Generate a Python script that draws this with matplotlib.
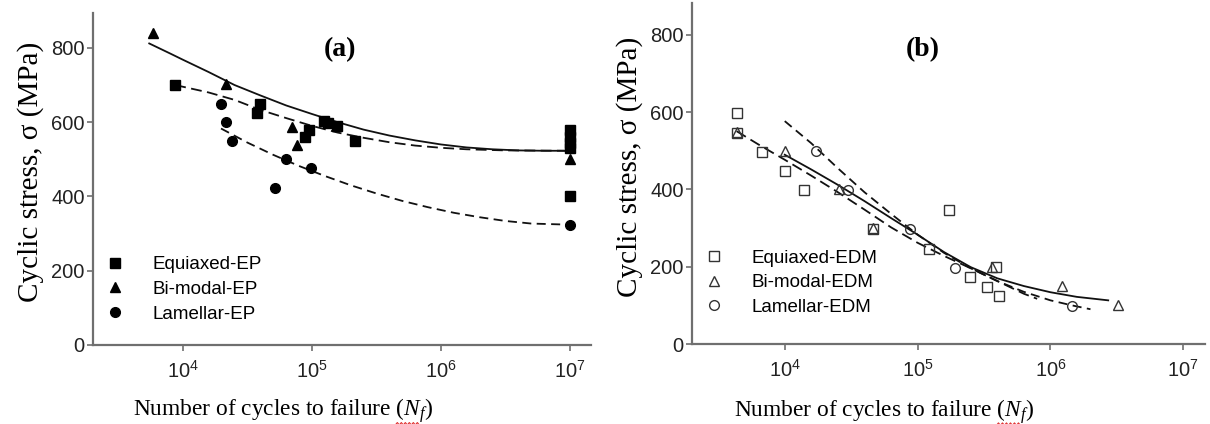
import matplotlib
matplotlib.use("Agg")
import matplotlib.pyplot as plt
from matplotlib.lines import Line2D
from matplotlib.transforms import IdentityTransform

plt.rcParams['font.family'] = ['Liberation Sans', 'DejaVu Sans']
plt.rcParams['mathtext.fontset'] = 'custom'
plt.rcParams['mathtext.rm'] = 'Liberation Serif'
plt.rcParams['mathtext.it'] = 'Liberation Serif:italic'
plt.rcParams['mathtext.sf'] = 'Liberation Sans'

# ---------------- data: panel (a) electropolished ----------------
eq_ep_N = [8700, 39300, 37300, 87700, 94000, 124000, 133000, 157000, 216000, 1e7, 1e7, 1e7, 1e7, 1e7]
eq_ep_S = [700, 649, 626, 561, 579, 604, 599, 590, 550, 578, 560, 545, 530, 400]
bi_ep_N = [5900, 21400, 69700, 76600, 1e7]
bi_ep_S = [841, 702, 588, 539, 500]
la_ep_N = [19700, 21700, 23900, 63000, 98000, 51900, 1e7]
la_ep_S = [649, 600, 550, 500, 476, 424, 324]

# trend curves, panel (a)
fitA_bi_N = [5470, 7940, 10000, 15800, 25100, 39800, 63100, 100000, 158000, 251000,
             398000, 631000, 1000000, 1580000, 2510000, 3980000, 6310000, 1e7]
fitA_bi_S = [812, 785, 768, 735, 700, 672, 645, 622, 600, 580,
             564, 551, 540, 532, 527, 524, 523, 523]
fitA_eq_N = [8700, 15800, 25100, 39800, 63100, 100000, 158000, 251000, 398000, 631000,
             1000000, 1580000, 3160000, 1e7]
fitA_eq_S = [700, 680, 660, 633, 611, 590, 572, 558, 546, 537,
             531, 527, 524, 523]
fitA_la_N = [19700, 31600, 50100, 79400, 126000, 200000, 316000, 501000, 794000,
             1260000, 2000000, 3160000, 5010000, 1e7]
fitA_la_S = [583, 545, 512, 482, 455, 430, 408, 388, 371,
             356, 344, 334, 327, 324]

# ---------------- data: panel (b) EDM ----------------
eq_edm_N = [4340, 4340, 6730, 10000, 14000, 45800, 121000, 171000, 250000, 332000, 388000, 413000]
eq_edm_S = [599, 547, 497, 447, 399, 297, 247, 347, 174, 148, 200, 123]
bi_edm_N = [4340, 10000, 25700, 45800, 360000, 1220000, 3200000]
bi_edm_S = [549, 499, 401, 301, 200, 149, 100]
la_edm_N = [17100, 30000, 87500, 192000, 1450000]
la_edm_S = [499, 399, 297, 197, 98]

fitB_bi_N = [10000, 15800, 25100, 39800, 63100, 100000, 158000, 251000, 398000,
             631000, 1000000, 1580000, 2720000]
fitB_bi_S = [490, 452, 412, 370, 326, 283, 238, 199, 170,
             150, 134, 122, 113]
fitB_eq_N = [4340, 6310, 10000, 15800, 25100, 39800, 63100, 100000, 158000, 251000,
             398000, 631000, 794000]
fitB_eq_S = [551, 517, 477, 436, 393, 348, 302, 262, 228, 196,
             163, 130, 117]
fitB_la_N = [10000, 15800, 25100, 39800, 63100, 100000, 158000, 251000, 398000,
             631000, 1000000, 1450000, 2000000]
fitB_la_S = [577, 520, 455, 393, 337, 283, 236, 196, 163,
             135, 113, 100, 90]

xticks = [1e4, 1e5, 1e6, 1e7]
xticklabels = [r'$\mathsf{10^{4}}$', r'$\mathsf{10^{5}}$', r'$\mathsf{10^{6}}$', r'$\mathsf{10^{7}}$']
yticks = [0, 200, 400, 600, 800]
xlabel_text = r'Number of cycles to failure ($N_f$)'
ylabel_text = 'Cyclic stress, σ (MPa)'

W, H = 1210, 424
fig = plt.figure(figsize=(W / 100, H / 100), dpi=100)
axA = fig.add_axes([93 / W, 1 - 345 / H, 498 / W, 332 / H])
axB = fig.add_axes([692 / W, 1 - 344 / H, 513 / W, 340.7 / H])

spine_col = '#6f6f6f'
ink = '#111111'


def style(ax, ymax, xlab_x, ylab_y):
    ax.set_xscale('log')
    ax.set_xlim(10 ** 3.302, 10 ** 7.163)
    ax.set_ylim(0, ymax)
    for s in ['top', 'right']:
        ax.spines[s].set_visible(False)
    for s in ['left', 'bottom']:
        ax.spines[s].set_color(spine_col)
        ax.spines[s].set_linewidth(1.6)
    ax.set_xticks(xticks)
    ax.set_xticklabels(xticklabels)
    ax.xaxis.set_minor_locator(matplotlib.ticker.NullLocator())
    ax.set_yticks(yticks)
    ax.tick_params(axis='both', direction='out', length=4, width=1.2, color=spine_col,
                   labelsize=14.5, labelcolor='#222222')
    ax.tick_params(axis='x', pad=7)
    ax.tick_params(axis='y', pad=2)
    ax.set_xlabel(xlabel_text, family='Liberation Serif', fontsize=16.8, labelpad=6)
    ax.xaxis.set_label_coords(xlab_x, -0.155)
    ax.set_ylabel(ylabel_text, family='Liberation Serif', fontsize=21, labelpad=5)
    ax.yaxis.label.set_y(ylab_y)


style(axA, 894, 0.381, 0.52)
style(axB, 882, 0.374, 0.52)

# panel (a)
axA.plot(fitA_bi_N, fitA_bi_S, color=ink, lw=1.3, ls='-')
axA.plot(fitA_eq_N, fitA_eq_S, color=ink, lw=1.3, ls=(0, (6, 3)))
axA.plot(fitA_la_N, fitA_la_S, color=ink, lw=1.3, ls=(0, (5, 3)))
hA1, = axA.plot(eq_ep_N, eq_ep_S, 's', color='black', ms=7, label='Equiaxed-EP')
hA2, = axA.plot(bi_ep_N, bi_ep_S, '^', color='black', ms=7.5, label='Bi-modal-EP')
hA3, = axA.plot(la_ep_N, la_ep_S, 'o', color='black', ms=7, label='Lamellar-EP')
axA.legend(handles=[hA1, hA2, hA3], loc='lower left', bbox_to_anchor=(0.01, 0.045), frameon=False,
           fontsize=13.5, handlelength=1.0, handletextpad=1.5, labelspacing=0.4, borderaxespad=0)
axA.text(0.496, 0.889, '(a)', transform=axA.transAxes, ha='center', va='center',
         family='Liberation Serif', fontweight='bold', fontsize=20)

# panel (b)
axB.plot(fitB_bi_N, fitB_bi_S, color=ink, lw=1.3, ls='-')
axB.plot(fitB_eq_N, fitB_eq_S, color=ink, lw=1.3, ls=(0, (6, 3)))
axB.plot(fitB_la_N, fitB_la_S, color=ink, lw=1.3, ls=(0, (5, 3)))
mk = dict(mfc='none', mec='#333333', mew=1.0, ls='none')
hB1, = axB.plot(eq_edm_N, eq_edm_S, 's', ms=7, label='Equiaxed-EDM', **mk)
hB2, = axB.plot(bi_edm_N, bi_edm_S, '^', ms=7.5, label='Bi-modal-EDM', **mk)
hB3, = axB.plot(la_edm_N, la_edm_S, 'o', ms=7, label='Lamellar-EDM', **mk)
axB.legend(handles=[hB1, hB2, hB3], loc='lower left', bbox_to_anchor=(0.01, 0.06), frameon=False,
           fontsize=13.5, handlelength=1.0, handletextpad=1.5, labelspacing=0.4, borderaxespad=0)
axB.text(0.45, 0.863, '(b)', transform=axB.transAxes, ha='center', va='center',
         family='Liberation Serif', fontweight='bold', fontsize=20)

# red spell-check squiggle under the subscript, as in the source screenshot
fig.canvas.draw()
renderer = fig.canvas.get_renderer()
for ax in (axA, axB):
    bb = ax.xaxis.label.get_window_extent(renderer)
    x0 = bb.x0 + 0.875 * bb.width
    x1 = bb.x0 + 0.955 * bb.width
    n = 12
    xs = [x0 + (x1 - x0) * i / n for i in range(n + 1)]
    ys = [bb.y0 + 1.5 + (1.2 if i % 2 else -1.2) for i in range(n + 1)]
    fig.add_artist(Line2D(xs, ys, transform=IdentityTransform(), color='#e03030', lw=0.8))

fig.savefig('out.png', dpi=100)
